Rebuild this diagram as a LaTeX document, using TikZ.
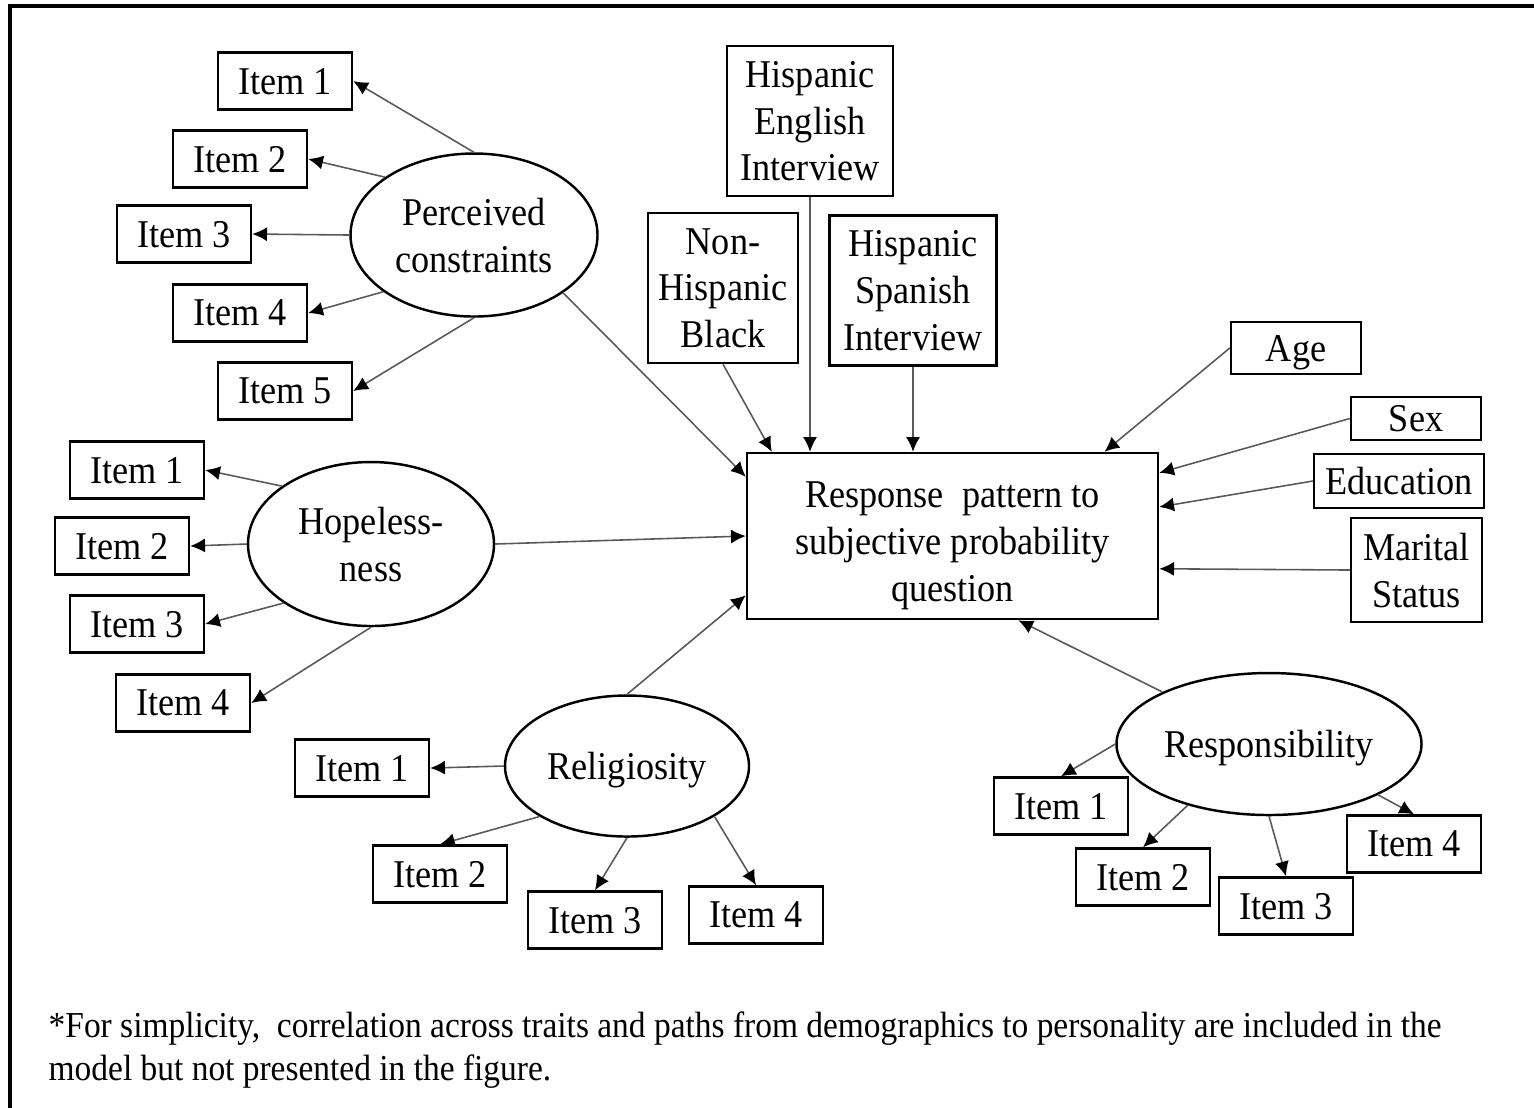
\documentclass[tikz,border=0pt]{standalone}
\usepackage{fontspec}
\setmainfont{Liberation Serif}[FakeStretch=0.92]
\newfontfamily\notefont{Liberation Serif}[FakeStretch=0.915]
\usetikzlibrary{arrows.meta,shapes.geometric}
\tikzset{
  item/.style={draw,line width=0.7pt,minimum width=1.34cm,minimum height=0.57cm,inner sep=0pt,text depth=0pt},
  trait/.style={draw,ellipse,line width=0.7pt,inner sep=0pt,align=center,text depth=0pt},
  demo/.style={draw,line width=0.7pt,inner sep=0pt,align=center,text depth=0pt}
}

\begin{document}
\begin{tikzpicture}[->,>={Latex[length=4.2pt,width=4pt,color=black]},
                    every edge/.style={draw=black!65,line width=0.45pt},
                    font=\fontsize{11.2}{13.3}\selectfont]
  \useasboundingbox (0,0) rectangle (15.34,-11.07);
  \draw[-,line width=0.9pt] (0.10,-11.3) -- (0.10,-0.06) -- (15.6,-0.06);

  % outcome
  \node[demo,minimum width=4.11cm,minimum height=1.66cm] (rp) at (9.525,-5.36)
       {\rule{0pt}{10.5pt}Response\ \ pattern to\\subjective probability\\question};

  % latent traits
  \node[trait,minimum width=2.47cm,minimum height=1.63cm] (pc)  at (4.74,-2.35)  {Perceived\\constraints};
  \node[trait,minimum width=2.46cm,minimum height=1.64cm] (hp)  at (3.71,-5.44)  {Hopeless-\\ness};
  \node[trait,minimum width=2.44cm,minimum height=1.41cm] (rel) at (6.27,-7.66)  {Religiosity};
  \node[trait,minimum width=3.05cm,minimum height=1.42cm] (res) at (12.69,-7.44) {Responsibility};

  % items
  \node[item] (pc1) at (2.85,-0.81) {Item 1};
  \node[item] (pc2) at (2.40,-1.59) {Item 2};
  \node[item] (pc3) at (1.84,-2.34) {Item 3};
  \node[item] (pc4) at (2.40,-3.13) {Item 4};
  \node[item] (pc5) at (2.85,-3.91) {Item 5};

  \node[item] (hp1) at (1.37,-4.70) {Item 1};
  \node[item] (hp2) at (1.22,-5.46) {Item 2};
  \node[item] (hp3) at (1.37,-6.24) {Item 3};
  \node[item] (hp4) at (1.83,-7.03) {Item 4};

  \node[item] (rel1) at (3.62,-7.68) {Item 1};
  \node[item] (rel2) at (4.40,-8.74) {Item 2};
  \node[item] (rel3) at (5.95,-9.20) {Item 3};
  \node[item] (rel4) at (7.56,-9.15) {Item 4};

  \node[item] (res1) at (10.61,-8.06) {Item 1};
  \node[item] (res2) at (11.43,-8.77) {Item 2};
  \node[item] (res3) at (12.86,-9.06) {Item 3};
  \node[item] (res4) at (14.14,-8.44) {Item 4};

  % demographics
  \node[demo,minimum width=1.66cm,minimum height=1.50cm] (hei) at (8.10,-1.21)  {Hispanic\\English\\Interview};
  \node[demo,minimum width=1.50cm,minimum height=1.50cm] (nhb) at (7.23,-2.88)  {Non-\\Hispanic\\Black};
  \node[demo,minimum width=1.67cm,minimum height=1.50cm] (hsi) at (9.13,-2.905) {Hispanic\\Spanish\\Interview};
  \node[demo,minimum width=1.30cm,minimum height=0.52cm] (age) at (12.96,-3.48) {Age};
  \node[demo,minimum width=1.30cm,minimum height=0.43cm] (sex) at (14.16,-4.185) {Sex};
  \node[demo,minimum width=1.70cm,minimum height=0.54cm] (edu) at (13.99,-4.81) {Education};
  \node[demo,minimum width=1.31cm,minimum height=1.04cm] (mar) at (14.165,-5.70) {Marital\\Status};

  % note
  \node[anchor=base west,inner sep=0pt,font=\notefont\fontsize{10.4}{12}\selectfont] (note1) at (0.48,-10.37)
       {*For simplicity,\ \ correlation across traits and paths from demographics to personality are included in the};
  \node[anchor=base west,inner sep=0pt,font=\notefont\fontsize{10.4}{12}\selectfont] (note2) at (0.48,-10.80)
       {model but not presented in the figure.};

  \path (pc.90)   edge (pc1.east)
        (pc.147)  edge (pc2.east)
        (pc.180)  edge (pc3.east)
        (pc.212)  edge (pc4.east)
        (pc.270)  edge (pc5.east)
        (pc.-33)  edge (rp.164);

  \path (hp.147)  edge (hp1.east)
        (hp.180)  edge (hp2.east)
        (hp.214)  edge (hp3.east)
        (hp.270)  edge (hp4.east)
        (hp.0)    edge (rp.west);

  \path (rel.180) edge (rel1.east)
        (rel.210) edge (rel2.north)
        (rel.270) edge (rel3.north)
        (rel.-30) edge (rel4.north)
        (rel.90)  edge (rp.196);

  \path (res.180) edge (res1.north)
        (res.217) edge (res2.north)
        (res.270) edge (res3.north)
        (res.-25) edge (res4.north)
        (res.154) edge (rp.-52);

  \path (nhb.south) edge (rp.155)
        (hei.south) edge (hei.south |- rp.north)
        (hsi.south) edge (hsi.south |- rp.north)
        (age.west)  edge (rp.29.5)
        (sex.west)  edge (rp.17)
        (edu.west)  edge (rp.8)
        (mar.west)  edge (rp.-9);
\end{tikzpicture}
\end{document}
